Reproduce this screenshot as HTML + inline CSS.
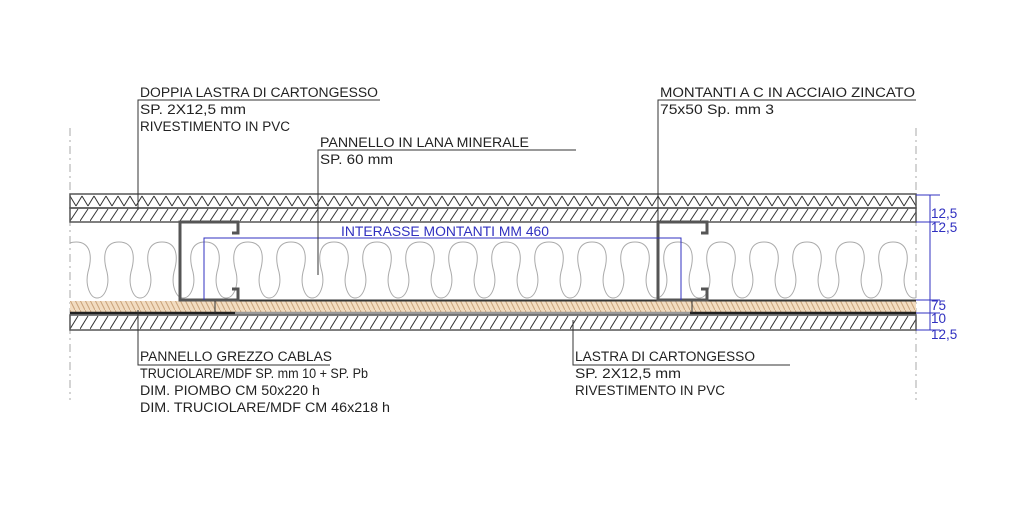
<!DOCTYPE html>
<html><head><meta charset="utf-8"><style>html,body{margin:0;padding:0;background:#fff}svg{display:block}text{font-family:"Liberation Sans",sans-serif;font-size:13.5px;fill:#222}</style></head><body>
<svg width="1024" height="525" viewBox="0 0 1024 525" xmlns="http://www.w3.org/2000/svg">
<defs>
<pattern id="chev" width="12" height="14" patternUnits="userSpaceOnUse" x="70" y="194">
<path d="M0,2 L6,12 M6,12 L12,2" stroke="#333" stroke-width="1" fill="none"/>
</pattern>
<pattern id="diag" width="10" height="14" patternUnits="userSpaceOnUse" x="70" y="208">
<path d="M0,13 L8,1" stroke="#333" stroke-width="1" fill="none"/>
</pattern>
<pattern id="diag2" width="10" height="16" patternUnits="userSpaceOnUse" x="70" y="314">
<path d="M0,15 L8,2" stroke="#333" stroke-width="1" fill="none"/>
</pattern>
<pattern id="wood" width="5" height="10" patternUnits="userSpaceOnUse">
<rect width="5" height="10" fill="#f2dcc0"/><path d="M0,0 L5,10" stroke="#c9a27a" stroke-width="1"/>
</pattern>
<clipPath id="cl"><rect x="70" y="222" width="846" height="80"/></clipPath>
</defs>
<line x1="70" y1="128" x2="70" y2="400" stroke="#aaa" stroke-dasharray="8,4,2,4"/>
<line x1="916" y1="128" x2="916" y2="400" stroke="#aaa" stroke-dasharray="8,4,2,4"/>
<rect x="70" y="194" width="846" height="14" fill="url(#chev)" stroke="#555" stroke-width="1.5"/>
<rect x="70" y="208" width="846" height="14" fill="url(#diag)" stroke="#555" stroke-width="1.5"/>
<g fill="none" stroke="#aaa" stroke-width="1" id="loops" clip-path="url(#cl)"></g>
<rect x="70" y="301" width="846" height="11" fill="url(#wood)"/>
<line x1="195" y1="300.5" x2="916" y2="300.5" stroke="#333" stroke-width="2"/>
<line x1="70" y1="313" x2="235" y2="313" stroke="#222" stroke-width="2.5"/>
<line x1="235" y1="313" x2="690" y2="313" stroke="#999" stroke-width="2.5"/>
<line x1="690" y1="313" x2="916" y2="313" stroke="#222" stroke-width="2.5"/>
<rect x="70" y="315" width="846" height="15" fill="url(#diag2)" stroke="#555" stroke-width="1.5"/>
<path d="M238,225 L238,222 L180,222 L180,300 L238,300 L238,289 L232,289" fill="none" stroke="#555" stroke-width="3"/>
<path d="M238,222 L238,233 L232,233" fill="none" stroke="#555" stroke-width="3"/>
<path d="M707,225 L707,222 L658,222 L658,300 L707,300 L707,289 L701,289" fill="none" stroke="#555" stroke-width="3"/>
<path d="M707,222 L707,233 L701,233" fill="none" stroke="#555" stroke-width="3"/>
<line x1="215" y1="301" x2="215" y2="313" stroke="#333"/>
<line x1="692" y1="301" x2="692" y2="313" stroke="#333"/>
<g stroke="#3030c0" stroke-width="1" fill="none">
<path d="M204,300 L204,238 L681,238 L681,300"/>
<line x1="930" y1="195" x2="930" y2="330"/>
<line x1="916" y1="195" x2="940" y2="195"/>
<line x1="916" y1="222" x2="940" y2="222"/>
<line x1="916" y1="300" x2="940" y2="300"/>
<line x1="916" y1="313" x2="940" y2="313"/>
<line x1="916" y1="330" x2="940" y2="330"/>
</g>
<g style="font-size:13px">
<text x="341" y="236" style="fill:#3030c0" textLength="208" lengthAdjust="spacingAndGlyphs">INTERASSE MONTANTI MM 460</text>
<text x="931" y="218" style="fill:#3030c0">12,5</text>
<text x="931" y="232" style="fill:#3030c0">12,5</text>
<text x="931" y="310" style="fill:#3030c0">75</text>
<text x="931" y="323" style="fill:#3030c0">10</text>
<text x="931" y="339" style="fill:#3030c0">12,5</text>
</g>
<g stroke="#333" stroke-width="1" fill="none">
<path d="M380,100 L138,100 L138,210"/>
<path d="M576,150 L318,150 L318,275"/>
<path d="M916,100 L658,100 L658,222"/>
<path d="M138,310 L138,365 L330,365"/>
<path d="M573,320 L573,365 L790,365"/>
</g>
<text x="140" y="97" textLength="238" lengthAdjust="spacingAndGlyphs">DOPPIA LASTRA DI CARTONGESSO</text>
<text x="140" y="114" textLength="106" lengthAdjust="spacingAndGlyphs">SP. 2X12,5 mm</text>
<text x="140" y="131" textLength="150" lengthAdjust="spacingAndGlyphs">RIVESTIMENTO IN PVC</text>
<text x="320" y="147" textLength="209" lengthAdjust="spacingAndGlyphs">PANNELLO IN LANA MINERALE</text>
<text x="320" y="164" textLength="73" lengthAdjust="spacingAndGlyphs">SP. 60 mm</text>
<text x="660" y="97" textLength="255" lengthAdjust="spacingAndGlyphs">MONTANTI A C IN ACCIAIO ZINCATO</text>
<text x="660" y="114" textLength="114" lengthAdjust="spacingAndGlyphs">75x50 Sp. mm 3</text>
<text x="140" y="361" textLength="192" lengthAdjust="spacingAndGlyphs">PANNELLO GREZZO CABLAS</text>
<text x="140" y="378" textLength="228" lengthAdjust="spacingAndGlyphs">TRUCIOLARE/MDF SP. mm 10 + SP. Pb</text>
<text x="140" y="395" textLength="180" lengthAdjust="spacingAndGlyphs">DIM. PIOMBO CM 50x220 h</text>
<text x="140" y="412" textLength="250" lengthAdjust="spacingAndGlyphs">DIM. TRUCIOLARE/MDF CM 46x218 h</text>
<text x="575" y="361" textLength="180" lengthAdjust="spacingAndGlyphs">LASTRA DI CARTONGESSO</text>
<text x="575" y="378" textLength="106" lengthAdjust="spacingAndGlyphs">SP. 2X12,5 mm</text>
<text x="575" y="395" textLength="150" lengthAdjust="spacingAndGlyphs">RIVESTIMENTO IN PVC</text>
</svg>
<script>
(function(){var g=document.getElementById('loops');var d='';for(var x=50;x<940;x+=43){var c=x+26;
d+='M'+(c-22)+',298 C'+(c-14)+',298 '+(c-9)+',285 '+(c-12)+',272 C'+(c-17)+',255 '+(c-14)+',242 '+c+',242 C'+(c+14)+',242 '+(c+17)+',255 '+(c+12)+',272 C'+(c+9)+',285 '+(c+14)+',298 '+(c+21)+',298 ';}
var p=document.createElementNS('http://www.w3.org/2000/svg','path');p.setAttribute('d',d);g.appendChild(p);})();
</script>
</body></html>
